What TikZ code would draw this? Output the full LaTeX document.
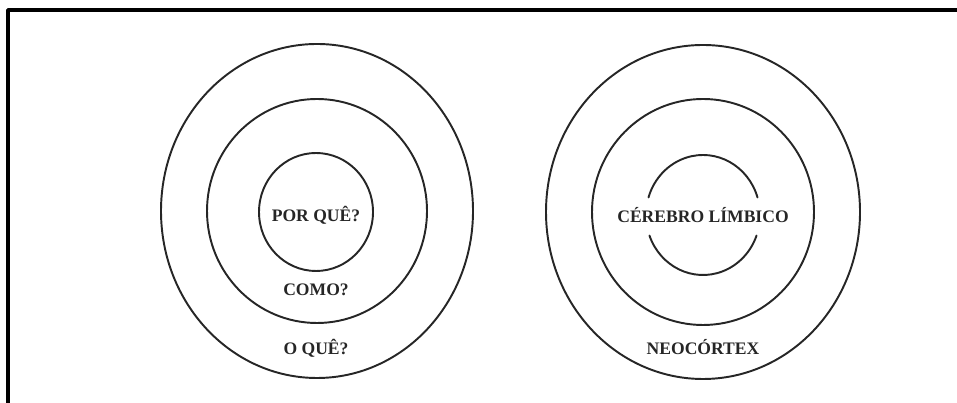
\documentclass[tikz,border=0pt]{standalone}
\usepackage{fontspec}
\setmainfont{Liberation Serif}

\begin{document}
\begin{tikzpicture}[
  line cap=round,
  line join=round,
  ring/.style={line width=1.1pt,draw=black!85},
  lbl/.style={font=\fontsize{10}{12}\selectfont\bfseries,text=black!85,inner sep=1pt}
]
  \useasboundingbox (0,0) rectangle (19.14,8.06);

  % Рамка: только верх и левая сторона
  \draw[line width=2.1pt]
    (0.16,0) -- (0.16,7.86) -- (19.14,7.86);

  % Левая диаграмма
  \coordinate (CL) at (6.34,3.84);

  \draw[ring]
    (CL) ellipse[x radius=3.12,y radius=3.34];

  \draw[ring]
    (CL) ellipse[x radius=2.2,y radius=2.24];

  \draw[ring]
    (6.32,3.82) ellipse[x radius=1.14,y radius=1.18];

  \node[lbl] (porque) at (6.32,3.76) {POR QUÊ?};
  \node[lbl] (como) at (6.32,2.26) {COMO?};
  \node[lbl] (oque) at (6.32,1.1) {O QUÊ?};

  % Правая диаграмма
  \coordinate (CR) at (14.06,3.82);

  \draw[ring]
    (CR) ellipse[x radius=3.14,y radius=3.34];

  \draw[ring]
    (CR) ellipse[x radius=2.22,y radius=2.26];

  % Внутренний эллипс с разрывом под текст
  \draw[ring]
    (14.06,3.76)
    ++(17:1.14 and 1.2)
    arc[
      start angle=17,
      end angle=163,
      x radius=1.14,
      y radius=1.2
    ];

  \draw[ring]
    (14.06,3.76)
    ++(200:1.14 and 1.2)
    arc[
      start angle=200,
      end angle=340,
      x radius=1.14,
      y radius=1.2
    ];

  \node[lbl] (limbico) at (14.06,3.76) {CÉREBRO LÍMBICO};
  \node[lbl] (neocortex) at (14.06,1.12) {NEOCÓRTEX};
\end{tikzpicture}
\end{document}
